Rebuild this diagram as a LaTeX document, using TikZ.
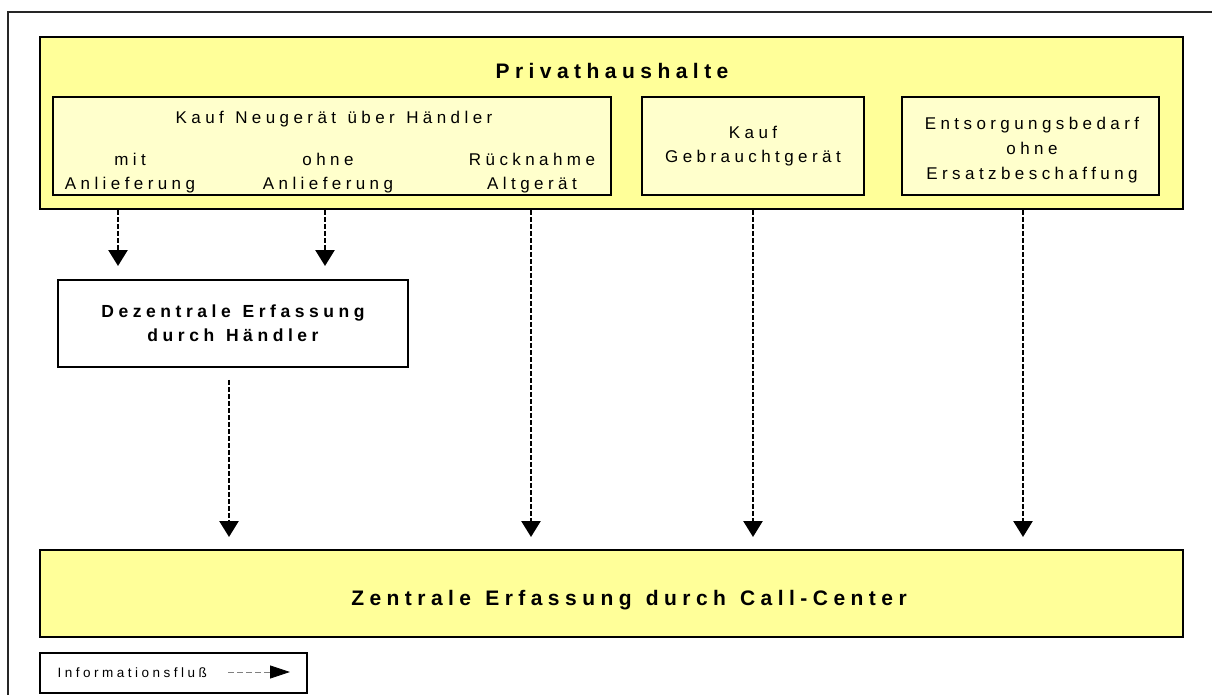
\documentclass[tikz,border=0pt]{standalone}
\usepackage{fontspec}
\setmainfont{Liberation Sans}[LetterSpace=26,WordSpace=1.25]
\usetikzlibrary{arrows.meta}
\definecolor{hhgelb}{HTML}{FFFF99}
\definecolor{hhhell}{HTML}{FFFFCC}
\begin{document}
\begin{tikzpicture}[x=1pt,y=-1pt,
        box/.style={draw, line width=1.5pt, inner sep=0pt, align=center},
        normal/.style={font=\fontsize{17}{24}\selectfont},
        gross/.style={font=\bfseries\fontsize{21}{26}\selectfont},
        info/.style={line width=2.6pt, dash pattern=on 5pt off 2pt, -{Triangle[width=19pt,length=16pt]}},
        legende/.style={gray, line width=0.8pt, dash pattern=on 6pt off 3pt, -{Triangle[width=13pt,length=20pt,black]}}]
            \useasboundingbox (0,0) rectangle (1212,695);
            \clip (0,0) rectangle (1212,695);
            \draw[line width=1.5pt, black!85] (8,12) rectangle (1240,730);
            \node[box, fill=hhgelb, minimum width=1143pt, minimum height=172pt] (privat) at (611.5,123) {};
            \node[gross, anchor=base] (privatTitel) at (612,79) {Privathaushalte};
            \node[box, fill=hhhell, minimum width=558pt, minimum height=98pt] (neukauf) at (332,146) {};
            \node[normal, anchor=base] (neukaufTitel) at (334,124) {Kauf Neugerät über Händler};
            \node[normal, align=center] (mitAnl) at (130,173) {mit\\Anlieferung};
            \node[normal, align=center] (ohneAnl) at (328,173) {ohne\\Anlieferung};
            \node[normal, align=center] (ruecknahme) at (532,173) {Rücknahme\\Altgerät};
            \node[box, normal, fill=hhhell, minimum width=222pt, minimum height=98pt] (gebraucht) at (753,146) {Kauf\\Gebrauchtgerät};
            \node[box, fill=hhhell, minimum width=257pt, minimum height=98pt] (entsorgung) at (1030.5,146) {};
            \node[align=center, font=\fontsize{17}{25}\selectfont] (entsorgungText) at (1032,150) {Entsorgungsbedarf\\ohne\\Ersatzbeschaffung};
            \node[box, fill=white, minimum width=350pt, minimum height=87pt,
                font=\bfseries\fontsize{17.5}{24}\selectfont] (dezentral) at (233,323.5) {Dezentrale Erfassung\\durch Händler};
            \node[box, fill=hhgelb, minimum width=1143pt, minimum height=87pt] (zentral) at (611.5,593.5) {};
            \node[gross, anchor=base] (zentralTitel) at (629,605) {Zentrale Erfassung durch Call-Center};
            \node[box, minimum width=267pt, minimum height=40pt] (legende) at (173.5,673) {};
            \node[font=\fontsize{13.5}{16}\selectfont, anchor=base west] (legendeText) at (54,677) {Informationsfluß};
            \coordinate (z1) at (118,266);
            \coordinate (z2) at (325,266);
            \coordinate (z3) at (229,537);
            \coordinate (z4) at (531,537);
            \coordinate (z5) at (753,537);
            \coordinate (z6) at (1023,537);
            \coordinate (l1) at (228,672);
            \coordinate (l2) at (290,672);
            \draw[info] (privat.south -| z1) -- (z1);
            \draw[info] (privat.south -| z2) -- (z2);
            \draw[info] ([yshift=-12pt]dezentral.south -| z3) -- (z3);
            \draw[info] (privat.south -| z4) -- (z4);
            \draw[info] (privat.south -| z5) -- (z5);
            \draw[info] (privat.south -| z6) -- (z6);
            \draw[legende] (l1) -- (l2);
        \end{tikzpicture}
\end{document}
